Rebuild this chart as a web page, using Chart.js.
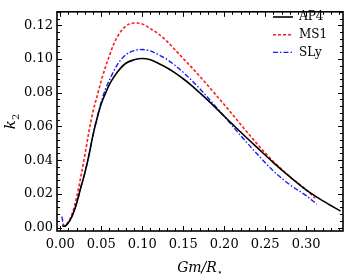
<!DOCTYPE html>
<html>
<head>
<meta charset="utf-8">
<script src="https://cdn.jsdelivr.net/npm/chart.js@4.4.1/dist/chart.umd.min.js"></script>
<style>
  html, body { margin: 0; padding: 0; background: #fff; }
  #wrap { width: 347px; height: 278px; }
</style>
</head>
<body>
<div id="wrap"><canvas id="k2Chart"></canvas></div>
<script>
// tidal Love number k2 vs compactness
const ap4X = [0.0025, 0.005, 0.01, 0.015, 0.02, 0.025, 0.03, 0.035, 0.04, 0.045, 0.05, 0.055, 0.06, 0.065, 0.07, 0.08, 0.09, 0.10, 0.11, 0.12, 0.13, 0.14, 0.15, 0.16, 0.17, 0.18, 0.19, 0.20, 0.21, 0.22, 0.23, 0.24, 0.26, 0.28, 0.30, 0.32, 0.342];
const ap4Y = [0.0010, 0.0008, 0.003, 0.0075, 0.0145, 0.0237, 0.0325, 0.043, 0.055, 0.065, 0.0735, 0.0795, 0.085, 0.089, 0.0925, 0.0975, 0.0995, 0.1003, 0.0995, 0.0973, 0.0948, 0.0918, 0.0883, 0.0844, 0.0801, 0.0756, 0.0709, 0.0661, 0.0614, 0.0567, 0.0521, 0.0476, 0.0386, 0.0302, 0.0224, 0.016, 0.0098];

const ms1X = [0.0025, 0.005, 0.01, 0.015, 0.02, 0.025, 0.03, 0.035, 0.04, 0.045, 0.05, 0.055, 0.06, 0.065, 0.07, 0.08, 0.09, 0.10, 0.11, 0.12, 0.13, 0.14, 0.15, 0.16, 0.17, 0.18, 0.19, 0.20, 0.21, 0.22, 0.23, 0.24, 0.25, 0.26, 0.28, 0.30, 0.311];
const ms1Y = [0.0015, 0.0012, 0.0035, 0.009, 0.018, 0.030, 0.043, 0.057, 0.069, 0.078, 0.0872, 0.095, 0.102, 0.1085, 0.1135, 0.1195, 0.1214, 0.1208, 0.118, 0.1148, 0.1106, 0.1055, 0.1003, 0.0952, 0.0898, 0.0843, 0.0787, 0.073, 0.0672, 0.0613, 0.0555, 0.0498, 0.0443, 0.0392, 0.0303, 0.0225, 0.0175];

const slyX = [0.002, 0.004, 0.006, 0.01, 0.015, 0.02, 0.025, 0.03, 0.035, 0.04, 0.045, 0.05, 0.055, 0.06, 0.065, 0.07, 0.08, 0.09, 0.10, 0.11, 0.12, 0.13, 0.14, 0.15, 0.16, 0.17, 0.18, 0.19, 0.20, 0.21, 0.22, 0.24, 0.26, 0.28, 0.30, 0.313];
const slyY = [0.0065, 0.0015, 0.0008, 0.003, 0.0075, 0.0145, 0.0237, 0.0325, 0.043, 0.055, 0.0655, 0.0745, 0.082, 0.0875, 0.0925, 0.097, 0.1025, 0.105, 0.1056, 0.1048, 0.1025, 0.0998, 0.0963, 0.0921, 0.0875, 0.0825, 0.0772, 0.0716, 0.066, 0.0603, 0.0547, 0.0438, 0.0336, 0.0255, 0.019, 0.0139];

const xTicks = [0, 0.05, 0.10, 0.15, 0.20, 0.25, 0.30];
const yTicks = [0, 0.02, 0.04, 0.06, 0.08, 0.10, 0.12];

const seriesNames = ['AP4', 'MS1', 'SLy'];

const FONT = '"DejaVu Serif", serif';

function pts(xs, ys) {
    return xs.map((x, i) => ({ x: x, y: ys[i] }));
}

// frame with inward ticks on all four sides, legend and axis titles
const framePlugin = {
    id: 'frame',
    afterDraw(chart) {
        const ctx = chart.ctx;
        const a = chart.chartArea;
        const xs = chart.scales.x, ys = chart.scales.y;
        ctx.save();
        ctx.strokeStyle = '#000';
        ctx.lineWidth = 1;
        ctx.beginPath();
        for (let i = 0; i <= 34; i++) {
            const px = Math.round(xs.getPixelForValue(i / 100)) + 0.5;
            const len = (i % 5 === 0) ? 5 : 3;
            ctx.moveTo(px, a.bottom); ctx.lineTo(px, a.bottom - len);
            ctx.moveTo(px, a.top); ctx.lineTo(px, a.top + len);
        }
        for (let i = 0; i <= 32; i++) {
            const py = Math.round(ys.getPixelForValue(i * 0.004)) + 0.5;
            const len = (i % 5 === 0) ? 5 : 3;
            ctx.moveTo(a.left, py); ctx.lineTo(a.left + len, py);
            ctx.moveTo(a.right, py); ctx.lineTo(a.right - len, py);
        }
        ctx.stroke();
        ctx.lineWidth = 1.6;
        ctx.strokeRect(a.left, a.top, a.right - a.left, a.bottom - a.top);

        // legend
        ctx.font = '12px ' + FONT;
        ctx.textBaseline = 'middle';
        ctx.fillStyle = '#000';
        chart.data.datasets.forEach((ds, i) => {
            const y = 17 + i * 17.7;
            ctx.beginPath();
            ctx.strokeStyle = ds.borderColor;
            ctx.lineWidth = ds.borderWidth;
            ctx.setLineDash(ds.borderDash || []);
            ctx.moveTo(273, y); ctx.lineTo(293, y);
            ctx.stroke();
            ctx.setLineDash([]);
            ctx.fillText(ds.label, 299, y);
        });

        // axis titles
        ctx.textBaseline = 'alphabetic';
        ctx.font = 'italic 14px ' + FONT;
        const t = 'Gm/R';
        const w = ctx.measureText(t).width;
        ctx.font = '9px ' + FONT;
        const ws = ctx.measureText('\u22C6').width;
        const cx = (a.left + a.right) / 2 - (w + ws) / 2;
        ctx.font = 'italic 14px ' + FONT;
        ctx.fillText(t, cx, 272);
        ctx.font = '9px ' + FONT;
        ctx.fillText('\u22C6', cx + w, 275);

        ctx.translate(15, (a.top + a.bottom) / 2);
        ctx.rotate(-Math.PI / 2);
        ctx.font = 'italic 15px ' + FONT;
        const kw = ctx.measureText('k').width;
        ctx.font = '10px ' + FONT;
        const sw = ctx.measureText('2').width;
        ctx.font = 'italic 15px ' + FONT;
        ctx.fillText('k', -(kw + sw) / 2, 0);
        ctx.font = '10px ' + FONT;
        ctx.fillText('2', -(kw + sw) / 2 + kw, 4);
        ctx.restore();
    }
};

new Chart(document.getElementById('k2Chart'), {
    type: 'line',
    data: {
        datasets: [
            { label: seriesNames[0], data: pts(ap4X, ap4Y), borderColor: '#000000', borderWidth: 1.6 },
            { label: seriesNames[1], data: pts(ms1X, ms1Y), borderColor: '#ff1a1a', borderWidth: 1.6, borderDash: [3, 2] },
            { label: seriesNames[2], data: pts(slyX, slyY), borderColor: '#1a1aff', borderWidth: 1.4, borderDash: [5, 2, 1.5, 2] }
        ]
    },
    options: {
        responsive: true,
        maintainAspectRatio: false,
        animation: false,
        elements: { point: { radius: 0 }, line: { cubicInterpolationMode: 'monotone', fill: false } },
        layout: { padding: { top: 1, right: 4, left: 0, bottom: 0 } },
        plugins: { legend: { display: false }, tooltip: { enabled: false } },
        scales: {
            x: {
                type: 'linear',
                min: -0.004, max: 0.345,
                grid: { display: false, drawTicks: false },
                border: { display: false },
                afterBuildTicks: s => { s.ticks = xTicks.map(v => ({ value: v })); },
                afterFit: s => { s.height = 47; },
                ticks: { padding: 6, color: '#000', font: { family: FONT, size: 13 }, maxRotation: 0,
                         callback: v => v.toFixed(2) }
            },
            y: {
                type: 'linear',
                min: -0.002, max: 0.128,
                grid: { display: false, drawTicks: false },
                border: { display: false },
                afterBuildTicks: s => { s.ticks = yTicks.map(v => ({ value: v })); },
                afterFit: s => { s.width = 57; },
                ticks: { padding: 4, color: '#000', font: { family: FONT, size: 13 },
                         callback: v => v.toFixed(2) }
            }
        }
    },
    plugins: [framePlugin]
});
</script>
</body>
</html>
